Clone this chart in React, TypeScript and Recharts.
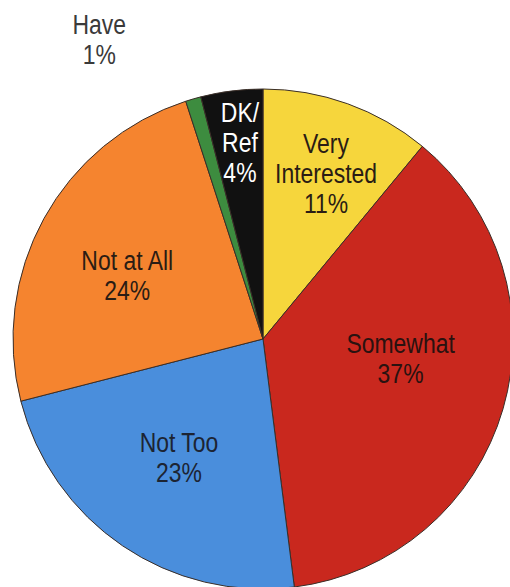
import { PieChart, Pie, Cell } from "recharts";

// survey answers, clockwise from 12 o'clock
const categories = ["Very Interested", "Somewhat", "Not Too", "Not at All", "Have", "DK/Ref"];
const shares = [11, 37, 23, 24, 1, 4];
const labelLines = [["Very", "Interested"], ["Somewhat"], ["Not Too"], ["Not at All"], ["Have"], ["DK/", "Ref"]];

const SLICE_COLORS = ["#f6d63c", "#c9281e", "#4a8edc", "#f5842f", "#3d8c3f", "#111111"];
const TEXT_COLORS = ["#2a1c14", "#2a1210", "#1c2433", "#2a1c14", "#3a3a3a", "#ffffff"];

// label nudges: [angle shift in degrees, radius factor]
const LABEL_PLACEMENT: [number, number][] = [
  [-1, 0.71],
  [8, 0.556],
  [-1.2, 0.58],
  [3.6, 0.6],
  [12.5, 1.364],
  [-0.5, 0.79],
];

// condensed look: Liberation Sans squeezed horizontally
const FONT = "'Liberation Sans', Arial, sans-serif";
const SQUEEZE = 0.85;
const LINE_H = 30;
const CAP_H = 19;

const data = categories.map((name, i) => ({ name, value: shares[i] }));

const RADIAN = Math.PI / 180;

function renderLabel(props: any) {
  const { cx, cy, midAngle, outerRadius, index } = props;
  const [shift, rf] = LABEL_PLACEMENT[index];
  const a = (midAngle + shift) * RADIAN;
  const x = cx + outerRadius * rf * Math.cos(a);
  const y = cy - outerRadius * rf * Math.sin(a);
  const lines = [...labelLines[index], `${shares[index]}%`];
  const block = (lines.length - 1) * LINE_H + CAP_H;
  const first = y - block / 2 + CAP_H;
  return (
    <text
      key={`lbl-${index}`}
      textAnchor="middle"
      fontFamily={FONT}
      fontSize={27}
      fill={TEXT_COLORS[index]}
      transform={`translate(${x} 0) scale(${SQUEEZE} 1) translate(${-x} 0)`}
    >
      {lines.map((t, j) => (
        <tspan key={j} x={x} y={first + j * LINE_H}>
          {t}
        </tspan>
      ))}
    </text>
  );
}

export default function App() {
  return (
    <div style={{ position: "absolute", left: 0, top: 0, background: "#fff" }}>
      <PieChart width={510} height={587} margin={{ top: 0, right: 0, bottom: 0, left: 0 }}>
        <Pie
          data={data}
          dataKey="value"
          nameKey="name"
          cx={263}
          cy={339}
          outerRadius={250}
          startAngle={90}
          endAngle={-270}
          stroke="#3a2e28"
          strokeWidth={1}
          label={renderLabel}
          labelLine={false}
          isAnimationActive={false}
        >
          {data.map((_, i) => (
            <Cell key={i} fill={SLICE_COLORS[i]} />
          ))}
        </Pie>
      </PieChart>
    </div>
  );
}
